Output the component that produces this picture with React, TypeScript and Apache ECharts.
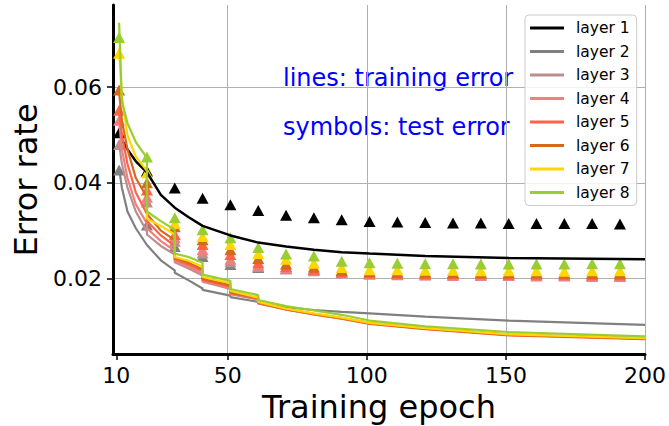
import React, { useEffect, useRef } from "react";
import * as echarts from "echarts";

const layerNames = ["layer 1", "layer 2", "layer 3", "layer 4", "layer 5", "layer 6", "layer 7", "layer 8"];
const layerColors = ["#000000", "#808080", "#bc8f8f", "#f08080", "#ff6347", "#d2691e", "#ffd700", "#9acd32"];

const xTicks = [10, 50, 100, 150, 200];
const yTicks = [0.02, 0.04, 0.06];

// training error (lines); repeated epochs mark the step drops
const lineEpochs = [11, 12, 14, 17, 21, 21, 26, 31, 31, 36, 41, 41, 51, 51, 61, 61, 71, 81, 91, 101, 121, 151, 200];
const train1 = [0.0505, 0.049, 0.047, 0.0445, 0.0422, 0.0422, 0.0375, 0.0348, 0.0348, 0.0328, 0.031, 0.031, 0.029, 0.029, 0.0275, 0.0275, 0.0267, 0.026, 0.0255, 0.0252, 0.0247, 0.0243, 0.024];
const train2 = [0.043, 0.039, 0.034, 0.0305, 0.027, 0.027, 0.0238, 0.0217, 0.0212, 0.0196, 0.0179, 0.0176, 0.0164, 0.0161, 0.0151, 0.0148, 0.014, 0.0134, 0.013, 0.0127, 0.012, 0.0112, 0.0103];
const train3 = [0.048, 0.044, 0.039, 0.034, 0.0298, 0.0292, 0.0268, 0.025, 0.0234, 0.0221, 0.0206, 0.0193, 0.0178, 0.0167, 0.0156, 0.0148, 0.0135, 0.0126, 0.0117, 0.0107, 0.0096, 0.0083, 0.0075];
const train4 = [0.053, 0.047, 0.041, 0.0355, 0.0315, 0.0305, 0.0278, 0.0258, 0.0237, 0.0225, 0.021, 0.0195, 0.018, 0.0168, 0.0157, 0.0148, 0.0135, 0.0125, 0.0116, 0.0106, 0.0095, 0.0082, 0.0074];
const train5 = [0.055, 0.05, 0.044, 0.038, 0.0335, 0.032, 0.029, 0.0268, 0.024, 0.0229, 0.0215, 0.0197, 0.0183, 0.0169, 0.0158, 0.0149, 0.0135, 0.0125, 0.0116, 0.0105, 0.0094, 0.0081, 0.0073];
const train6 = [0.059, 0.053, 0.047, 0.041, 0.037, 0.0335, 0.03, 0.028, 0.0244, 0.0233, 0.0219, 0.0199, 0.0186, 0.0171, 0.0159, 0.015, 0.0136, 0.0126, 0.0117, 0.0106, 0.0095, 0.0082, 0.0074];
const train7 = [0.068, 0.058, 0.05, 0.0455, 0.0425, 0.0325, 0.031, 0.0292, 0.0245, 0.0237, 0.0225, 0.0203, 0.019, 0.0174, 0.016, 0.0151, 0.0137, 0.0127, 0.0118, 0.0107, 0.0096, 0.0083, 0.0075];
const train8 = [0.0735, 0.057, 0.0525, 0.0485, 0.0452, 0.034, 0.032, 0.0302, 0.0252, 0.0245, 0.0233, 0.0208, 0.0195, 0.0178, 0.0165, 0.0155, 0.0142, 0.0133, 0.0124, 0.0112, 0.01, 0.0088, 0.0079];

// test error (triangles)
const testEpochs = [11, 21, 31, 41, 51, 61, 71, 81, 91, 101, 111, 121, 131, 141, 151, 161, 171, 181, 191];
const test1 = [0.0505, 0.0425, 0.0389, 0.0368, 0.0354, 0.0342, 0.0332, 0.0327, 0.0323, 0.0319, 0.0318, 0.0317, 0.0316, 0.0316, 0.0315, 0.0315, 0.0315, 0.0315, 0.0314];
const test2 = [0.0427, 0.0312, 0.0267, 0.0246, 0.0229, 0.0223, 0.0221, 0.0219, 0.0216, 0.0214, 0.0213, 0.0212, 0.0212, 0.0212, 0.0211, 0.0211, 0.0211, 0.0211, 0.0211];
const test3 = [0.048, 0.036, 0.0278, 0.0253, 0.0235, 0.0225, 0.022, 0.0216, 0.0212, 0.021, 0.0209, 0.0208, 0.0208, 0.0207, 0.0207, 0.0207, 0.0206, 0.0206, 0.0206];
const test4 = [0.0531, 0.037, 0.0285, 0.026, 0.024, 0.0228, 0.0222, 0.0218, 0.0212, 0.0209, 0.0208, 0.0207, 0.0206, 0.0206, 0.0206, 0.0205, 0.0205, 0.0204, 0.0204];
const test5 = [0.0552, 0.0385, 0.0292, 0.0271, 0.025, 0.0233, 0.0225, 0.022, 0.0214, 0.0212, 0.0211, 0.021, 0.021, 0.021, 0.0209, 0.0209, 0.0209, 0.0208, 0.0208];
const test6 = [0.0594, 0.04, 0.0308, 0.0281, 0.026, 0.0242, 0.023, 0.0224, 0.0217, 0.0214, 0.0213, 0.0213, 0.0212, 0.0212, 0.0212, 0.0212, 0.0211, 0.0211, 0.0211];
const test7 = [0.0671, 0.0421, 0.0315, 0.0288, 0.0271, 0.0252, 0.024, 0.0232, 0.0223, 0.0218, 0.0218, 0.0217, 0.0217, 0.0216, 0.0216, 0.0216, 0.0215, 0.0216, 0.0216];
const test8 = [0.0704, 0.0454, 0.0327, 0.0302, 0.0285, 0.0265, 0.0251, 0.0247, 0.0236, 0.0233, 0.0232, 0.0231, 0.0231, 0.023, 0.023, 0.023, 0.023, 0.0231, 0.0231];

const trainAll = [train1, train2, train3, train4, train5, train6, train7, train8];
const testAll = [test1, test2, test3, test4, test5, test6, test7, test8];

const FONT = "DejaVu Sans";

export default function App() {
  const ref = useRef<HTMLDivElement>(null);
  useEffect(() => {
    if (!ref.current) return;
    const chart = echarts.init(ref.current, null, { renderer: "svg" });
    const series: any[] = [];
    layerNames.forEach((name, i) => {
      series.push({
        type: "line",
        name,
        data: lineEpochs.map((e, j) => [e, trainAll[i][j]]),
        showSymbol: false,
        symbol: "none",
        lineStyle: { color: layerColors[i], width: i === 0 ? 2.5 : 2.2, opacity: 1 },
        itemStyle: { color: layerColors[i] },
      });
      series.push({
        type: "scatter",
        name: name + " test",
        data: testEpochs.map((e, j) => [e, testAll[i][j]]),
        symbol: "triangle",
        symbolSize: [12, 11],
        itemStyle: { color: layerColors[i], opacity: 1 },
      });
    });
    chart.setOption({
      animation: false,
      grid: { left: 113, right: 23.3, top: 5, bottom: 72, containLabel: false },
      xAxis: {
        type: "value",
        min: 8.8,
        max: 200,
        axisLine: { show: true, lineStyle: { color: "#000", width: 3 } },
        axisTick: { show: true, customValues: xTicks, length: 6, lineStyle: { color: "#000", width: 1.5 } },
        axisLabel: { customValues: xTicks, fontSize: 22, color: "#000", fontFamily: FONT, margin: 10 },
        splitLine: {
          show: true,
          lineStyle: { color: ["rgba(0,0,0,0)", "#b0b0b0", "#b0b0b0", "#b0b0b0", "#b0b0b0"], width: 1 },
        },
      },
      yAxis: {
        type: "value",
        min: 0.0042,
        max: 0.0772,
        axisLine: { show: true, lineStyle: { color: "#000", width: 3 } },
        axisTick: { show: true, customValues: yTicks, length: 6, lineStyle: { color: "#000", width: 1.5 } },
        axisLabel: {
          customValues: yTicks,
          fontSize: 22,
          color: "#000",
          fontFamily: FONT,
          margin: 11,
          formatter: (v: number) => v.toFixed(2),
        },
        splitLine: { show: true, lineStyle: { color: "#b0b0b0", width: 1 } },
      },
      legend: {
        data: layerNames,
        orient: "vertical",
        left: 525,
        top: 15,
        padding: [5, 7, 5, 5],
        itemWidth: 34,
        itemHeight: 3,
        itemGap: 7.5,
        icon: "rect",
        backgroundColor: "rgba(255,255,255,0.85)",
        borderColor: "#cccccc",
        borderWidth: 1,
        borderRadius: 4,
        textStyle: { fontSize: 15.5, fontFamily: FONT, color: "#000", lineHeight: 16, padding: [0, 0, 0, 7] },
      },
      graphic: [
        {
          type: "text",
          x: 283,
          y: 78,
          style: { text: "lines: training error", fill: "#0000ff", fontSize: 24, fontFamily: FONT, textAlign: "left", textVerticalAlign: "middle" },
        },
        {
          type: "text",
          x: 283,
          y: 127,
          style: { text: "symbols: test error", fill: "#0000ff", fontSize: 24, fontFamily: FONT, textAlign: "left", textVerticalAlign: "middle" },
        },
        {
          type: "text",
          x: 379,
          y: 407,
          style: { text: "Training epoch", fill: "#000", fontSize: 32, fontFamily: FONT, textAlign: "center", textVerticalAlign: "middle" },
        },
        {
          type: "text",
          x: 26,
          y: 180,
          rotation: Math.PI / 2,
          style: { text: "Error rate", fill: "#000", fontSize: 32, fontFamily: FONT, textAlign: "center", textVerticalAlign: "middle" },
        },
      ],
      series,
    });
    return () => chart.dispose();
  }, []);
  return (
    <div
      ref={ref}
      style={{ position: "fixed", left: 0, top: 0, width: 669, height: 426, background: "#fff" }}
    />
  );
}
